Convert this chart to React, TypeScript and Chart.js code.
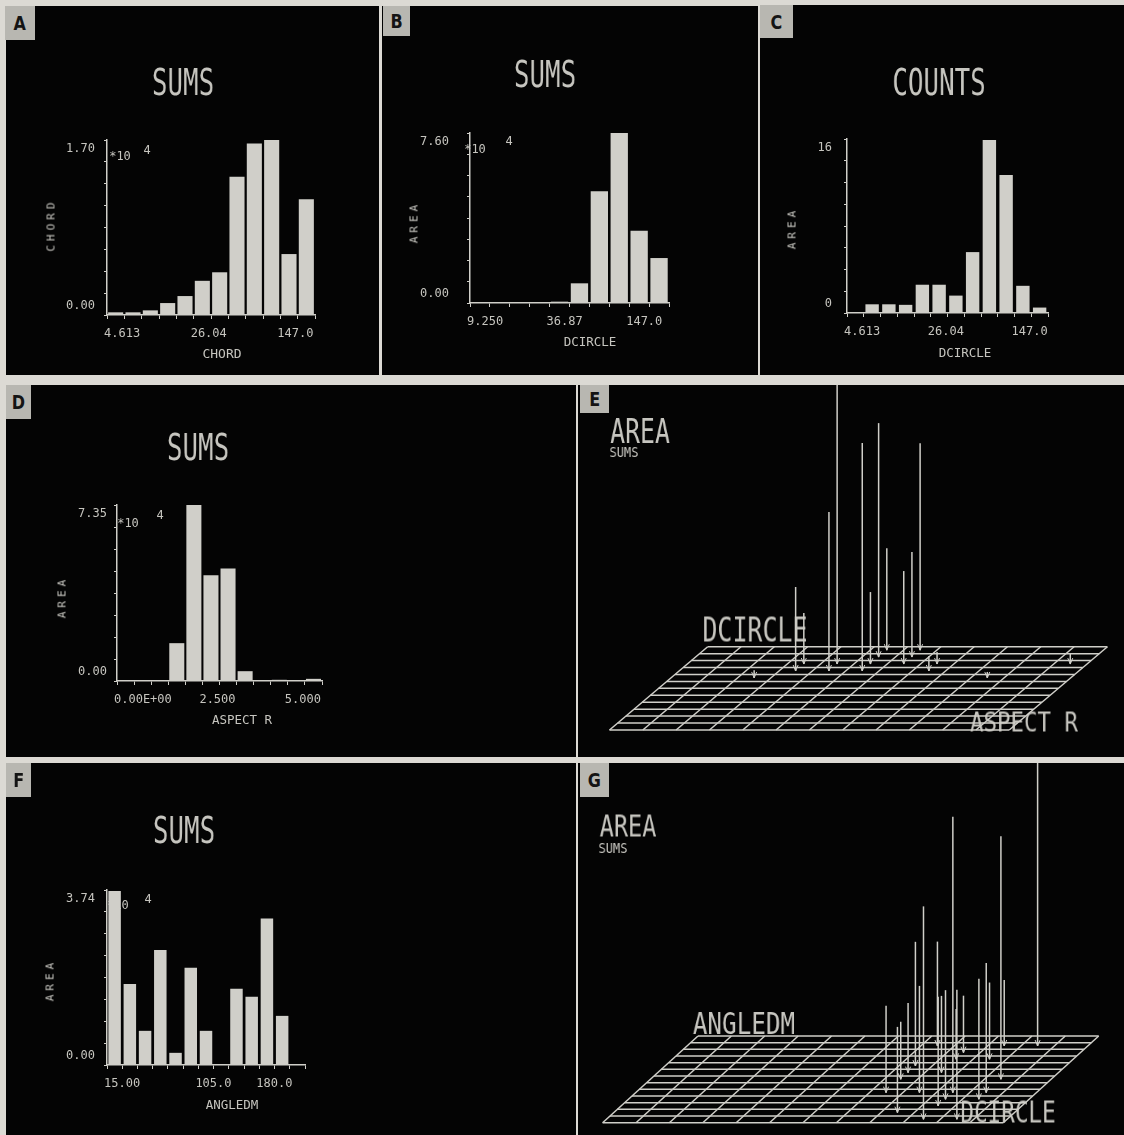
import React, { useEffect, useRef } from 'react';
import { Chart, registerables } from 'chart.js';

Chart.register(...registerables);

const PAGE_BG = '#dcdad4';
const PANEL_BG = '#040404';
const INK = '#d0cfc9';
const TEXT = '#c6c5bf';
const TAB_BG = '#b8b7b1';
const MONO = '"DejaVu Sans Mono", "Liberation Mono", monospace';

// ---------- Panel A: SUMS of CHORD by CHORD (x10^4)
const chordSums = [0.026, 0.026, 0.045, 0.116, 0.184, 0.332, 0.415, 1.343, 1.665, 1.7, 0.592, 1.124];
const chordTickIdx = [0, 5, 10];
const chordTickLabels = ['4.613', '26.04', '147.0'];
const chordYLabels = ['0.00', '1.70'];

// ---------- Panel B: SUMS of AREA by DCIRCLE (x10^4)
const dcircleAreaSums = [0, 0, 0, 0, 0.06, 0.88, 5.0, 7.6, 3.23, 2.01];
const dcircleBTickIdx = [0, 4, 8];
const dcircleBTickLabels = ['9.250', '36.87', '147.0'];
const dcircleBYLabels = ['0.00', '7.60'];

// ---------- Panel C: COUNTS by DCIRCLE
const dcircleCounts = [0, 0.8, 0.8, 0.75, 2.6, 2.6, 1.6, 5.6, 15.9, 12.7, 2.5, 0.5];
const dcircleCTickIdx = [0, 5, 10];
const dcircleCTickLabels = ['4.613', '26.04', '147.0'];
const dcircleCYLabels = ['0', '16'];

// ---------- Panel D: SUMS of AREA by ASPECT R (x10^4)
const aspectAreaSums = [0, 0, 0, 1.58, 7.35, 4.42, 4.7, 0.41, 0, 0.05, 0, 0.09];
const aspectTickIdx = [0, 5, 10];
const aspectTickLabels = ['0.00E+00', '2.500', '5.000'];
const aspectYLabels = ['0.00', '7.35'];

// ---------- Panel F: SUMS of AREA by ANGLEDM (x10^4)
const angleAreaSums = [3.72, 1.73, 0.73, 2.46, 0.26, 2.08, 0.73, 0, 1.63, 1.46, 3.13, 1.05, 0];
const angleTickIdx = [0, 6, 10];
const angleTickLabels = ['15.00', '105.0', '180.0'];
const angleYLabels = ['0.00', '3.74'];

// ---------- Panel E: AREA sums by ASPECT R (across) x DCIRCLE (depth)
const eAspectBin = [3, 3, 4, 4, 5, 5, 5, 5, 6, 6, 6, 7, 7, 9, 11, 2];
const eDcircleBin = [8, 9, 8, 9, 8, 9, 10, 11, 9, 10, 11, 8, 9, 7, 9, 7];
const eAreaSums = [14, 8.5, 26.5, 55, 38, 12, 39, 17, 15.5, 17.5, 34.5, 2.5, 2, 1, 1.7, 1.3];

// ---------- Panel G: AREA sums by DCIRCLE (across) x ANGLEDM (depth)
const gDcircleBin = [7, 8, 7, 7, 7, 8, 9, 7, 9, 8, 9, 9, 8, 10, 8, 10, 10, 9, 10, 9, 10];
const gAngleBin = [4, 1, 6, 7, 8, 4, 0, 11, 2, 7, 3, 4, 9, 0, 10, 3, 4, 9, 6, 11, 11];
const gAreaSums = [14.5, 14.3, 9.6, 11.6, 20.7, 17.8, 35.5, 17.4, 18.2, 12.8, 18.2, 46, 8.4, 21.6, 9.5, 20.1, 21.6, 12.8, 40.5, 11, 60];

type Rect = { x: number; y: number; w: number; h: number };
type Area = { l: number; r: number; t: number; b: number };

const Y_W = 60;
const X_H = 30;

function HistChart(props: {
  rect: Rect; area: Area; values: number[]; yMax: number; yLabels: string[];
  xIdx: number[]; xLabels: string[]; barPct: number; yPad: number;
}) {
  const ref = useRef<HTMLCanvasElement>(null);
  useEffect(() => {
    const { rect, area, values, yMax, yLabels, xIdx, xLabels, barPct, yPad } = props;
    const n = values.length;
    const font = { family: MONO, size: 12, lineHeight: 1.5 };
    const chart = new Chart(ref.current as HTMLCanvasElement, {
      type: 'bar',
      data: {
        datasets: [{
          data: values.map((v, i) => ({ x: i + 0.5, y: v })),
          backgroundColor: INK,
          borderWidth: 0,
          barPercentage: barPct,
          categoryPercentage: 1,
        }],
      },
      options: {
        animation: false,
        responsive: false,
        events: [],
        layout: {
          padding: {
            left: area.l - rect.x - Y_W,
            top: area.t - rect.y,
            right: rect.x + rect.w - area.r,
            bottom: rect.y + rect.h - area.b - X_H,
          },
        },
        plugins: { legend: { display: false }, tooltip: { enabled: false }, title: { display: false } },
        scales: {
          x: {
            type: 'linear', min: 0, max: n, offset: false,
            afterFit: (s: any) => { s.height = X_H; },
            afterBuildTicks: (s: any) => { s.ticks = Array.from({ length: n + 1 }, (_, i) => ({ value: i })); },
            ticks: {
              autoSkip: false, maxRotation: 0, minRotation: 0, align: 'start', labelOffset: -3, padding: 8,
              color: TEXT, font: { family: MONO, size: 12 },
              callback: (_v: any, i: number) => { const k = xIdx.indexOf(i); return k >= 0 ? xLabels[k] : ''; },
            },
            grid: { display: true, drawOnChartArea: false, drawTicks: true, tickLength: 4, color: INK, lineWidth: 1, offset: false },
            border: { display: true, color: INK, width: 1.5 },
          },
          y: {
            type: 'linear', min: 0, max: yMax,
            afterFit: (s: any) => { s.width = Y_W; },
            afterBuildTicks: (s: any) => { s.ticks = Array.from({ length: 9 }, (_, i) => ({ value: (yMax * i) / 8 })); },
            ticks: {
              autoSkip: false, padding: yPad, color: TEXT, font,
              callback: (_v: any, i: number) => (i === 0 ? [yLabels[0], ''] : i === 8 ? ['', yLabels[1]] : ''),
            },
            grid: { display: true, drawOnChartArea: false, drawTicks: true, tickLength: 3, color: INK, lineWidth: 1 },
            border: { display: true, color: INK, width: 1.5 },
          },
        },
      } as any,
    });
    return () => chart.destroy();
  }, []);
  const { rect } = props;
  return (
    <canvas ref={ref} width={rect.w} height={rect.h}
      style={{ position: 'absolute', left: rect.x, top: rect.y, width: rect.w, height: rect.h, zIndex: 2 }} />
  );
}

type Geo = { fx: number; fy: number; w: number; sx: number; h: number; cols: number; rows: number; z: number };

function WireChart(props: { rect: Rect; geo: Geo; across: number[]; depth: number[]; vals: number[] }) {
  const ref = useRef<HTMLCanvasElement>(null);
  useEffect(() => {
    const { rect, geo, across, depth, vals } = props;
    const proj = (c: number, d: number, z: number) => ({
      x: geo.fx - rect.x + (c / geo.cols) * geo.w + (d / geo.rows) * geo.sx,
      y: geo.fy - rect.y - (d / geo.rows) * geo.h - z * geo.z,
    });
    const ds: any[] = [];
    const line = (pts: { x: number; y: number }[], w = 1.5) =>
      ds.push({ data: pts, showLine: true, borderColor: INK, borderWidth: w, pointRadius: 0, fill: false, tension: 0 });
    for (let c = 0; c <= geo.cols; c++) line([proj(c, 0, 0), proj(c, geo.rows, 0)]);
    for (let d = 0; d <= geo.rows; d++) line([proj(0, d, 0), proj(geo.cols, d, 0)]);
    vals.forEach((v, i) => {
      const c = across[i] + 0.5;
      const d = depth[i] + 0.5;
      const b = proj(c, d, 0);
      line([b, proj(c, d, v)], 1.5);
      line([{ x: b.x - 2.5, y: b.y - 6 }, b, { x: b.x + 2.5, y: b.y - 6 }], 1);
    });
    const chart = new Chart(ref.current as HTMLCanvasElement, {
      type: 'scatter',
      data: { datasets: ds },
      options: {
        animation: false,
        responsive: false,
        events: [],
        layout: { padding: 0 },
        plugins: { legend: { display: false }, tooltip: { enabled: false } },
        scales: {
          x: { type: 'linear', display: false, min: 0, max: rect.w },
          y: { type: 'linear', display: false, min: 0, max: rect.h, reverse: true },
        },
      } as any,
    });
    return () => chart.destroy();
  }, []);
  const { rect } = props;
  return (
    <canvas ref={ref} width={rect.w} height={rect.h}
      style={{ position: 'absolute', left: rect.x, top: rect.y, width: rect.w, height: rect.h, zIndex: 2 }} />
  );
}

function Label(p: { x: number; y: number; t: string; s: number; sx?: number; rot?: number; ls?: number; color?: string }) {
  return (
    <div style={{
      position: 'absolute', left: p.x, top: p.y, zIndex: 1,
      transform: `translate(-50%, -50%) rotate(${p.rot || 0}deg) scaleX(${p.sx || 1})`,
      fontFamily: MONO, fontSize: p.s, lineHeight: 1, whiteSpace: 'pre', color: p.color || TEXT,
      letterSpacing: p.ls || 0, willChange: 'transform', WebkitFontSmoothing: 'antialiased',
    } as any}>{p.t}</div>
  );
}

function Tab(p: { x: number; y: number; w: number; h: number; t: string }) {
  return (
    <div style={{
      position: 'absolute', left: p.x, top: p.y, width: p.w, height: p.h, background: TAB_BG, zIndex: 3,
      display: 'flex', alignItems: 'center', justifyContent: 'center',
    }}>
      <span style={{ fontFamily: '"DejaVu Sans", sans-serif', fontWeight: 'bold', fontSize: 20, color: '#141414', transform: 'scaleX(0.8)', display: 'inline-block' }}>{p.t}</span>
    </div>
  );
}

const rA: Rect = { x: 6, y: 6, w: 373, h: 369 };
const rB: Rect = { x: 382, y: 6, w: 376, h: 369 };
const rC: Rect = { x: 760, y: 5, w: 364, h: 370 };
const rD: Rect = { x: 6, y: 385, w: 570, h: 372 };
const rE: Rect = { x: 578, y: 385, w: 546, h: 372 };
const rF: Rect = { x: 6, y: 763, w: 570, h: 372 };
const rG: Rect = { x: 578, y: 763, w: 546, h: 372 };

const geoE: Geo = { fx: 609.5, fy: 730, w: 399.7, sx: 98.2, h: 83.3, cols: 12, rows: 12, z: 6 };
const geoG: Geo = { fx: 602.6, fy: 1122.7, w: 400.7, sx: 95.4, h: 86.7, cols: 12, rows: 13, z: 6 };

export default function App() {
  const panels = [rA, rB, rC, rD, rE, rF, rG];
  return (
    <div style={{ position: 'absolute', left: 0, top: 0, width: 1124, height: 1135, background: PAGE_BG, overflow: 'hidden' }}>
      {panels.map((r, i) => (
        <div key={i} style={{ position: 'absolute', left: r.x, top: r.y, width: r.w, height: r.h, background: PANEL_BG, zIndex: 0 }} />
      ))}

      {/* Panel A */}
      <Label x={183} y={82} t="SUMS" s={38} sx={0.68} />
      <Label x={51} y={225} t="CHORD" s={11} rot={-90} ls={4} />
      <Label x={222} y={353} t="CHORD" s={13} />
      <Label x={120} y={156} t="*10" s={12} />
      <Label x={147} y={150} t="4" s={12} />
      <HistChart rect={rA} area={{ l: 107, r: 315, t: 140, b: 315 }} values={chordSums} yMax={1.7}
        yLabels={chordYLabels} xIdx={chordTickIdx} xLabels={chordTickLabels} barPct={0.87} yPad={9} />

      {/* Panel B */}
      <Label x={545} y={74} t="SUMS" s={38} sx={0.68} />
      <Label x={414} y={222} t="AREA" s={11} rot={-90} ls={4} />
      <Label x={590} y={342} t="DCIRCLE" s={12.5} />
      <Label x={475} y={149} t="*10" s={12} />
      <Label x={509} y={141} t="4" s={12} />
      <HistChart rect={rB} area={{ l: 470, r: 669, t: 133, b: 303 }} values={dcircleAreaSums} yMax={7.6}
        yLabels={dcircleBYLabels} xIdx={dcircleBTickIdx} xLabels={dcircleBTickLabels} barPct={0.87} yPad={18} />

      {/* Panel C */}
      <Label x={939} y={82} t="COUNTS" s={38} sx={0.68} />
      <Label x={792} y={228} t="AREA" s={11} rot={-90} ls={4} />
      <Label x={965} y={353} t="DCIRCLE" s={12.5} />
      <HistChart rect={rC} area={{ l: 847, r: 1048, t: 139, b: 313 }} values={dcircleCounts} yMax={16}
        yLabels={dcircleCYLabels} xIdx={dcircleCTickIdx} xLabels={dcircleCTickLabels} barPct={0.8} yPad={12} />

      {/* Panel D */}
      <Label x={198} y={447} t="SUMS" s={38} sx={0.68} />
      <Label x={62} y={597} t="AREA" s={11} rot={-90} ls={4} />
      <Label x={242} y={720} t="ASPECT R" s={12.5} />
      <Label x={128} y={523} t="*10" s={12} />
      <Label x={160} y={515} t="4" s={12} />
      <HistChart rect={rD} area={{ l: 117, r: 322, t: 505, b: 681 }} values={aspectAreaSums} yMax={7.35}
        yLabels={aspectYLabels} xIdx={aspectTickIdx} xLabels={aspectTickLabels} barPct={0.88} yPad={7} />

      {/* Panel F */}
      <Label x={184} y={830} t="SUMS" s={38} sx={0.68} />
      <Label x={50} y={980} t="AREA" s={11} rot={-90} ls={4} />
      <Label x={232} y={1105} t="ANGLEDM" s={12.5} />
      <Label x={118} y={905} t="*10" s={12} />
      <Label x={148} y={899} t="4" s={12} />
      <HistChart rect={rF} area={{ l: 107, r: 305, t: 890, b: 1065 }} values={angleAreaSums} yMax={3.74}
        yLabels={angleYLabels} xIdx={angleTickIdx} xLabels={angleTickLabels} barPct={0.82} yPad={9} />

      {/* Panel E */}
      <Label x={640} y={431} t="AREA" s={34} sx={0.73} />
      <Label x={624} y={452} t="SUMS" s={14} sx={0.86} />
      <Label x={755} y={630} t="DCIRCLE" s={33} sx={0.755} />
      <Label x={1024} y={722} t="ASPECT R" s={27} sx={0.83} />
      <WireChart rect={rE} geo={geoE} across={eAspectBin} depth={eDcircleBin} vals={eAreaSums} />

      {/* Panel G */}
      <Label x={628} y={826} t="AREA" s={31} sx={0.76} />
      <Label x={613} y={848} t="SUMS" s={14} sx={0.86} />
      <Label x={744} y={1024} t="ANGLEDM" s={30} sx={0.81} />
      <Label x={1008} y={1112} t="DCIRCLE" s={31} sx={0.73} />
      <WireChart rect={rG} geo={geoG} across={gDcircleBin} depth={gAngleBin} vals={gAreaSums} />

      <Tab x={5} y={6} w={30} h={34} t="A" />
      <Tab x={383} y={6} w={27} h={30} t="B" />
      <Tab x={760} y={5} w={33} h={33} t="C" />
      <Tab x={6} y={385} w={25} h={34} t="D" />
      <Tab x={580} y={385} w={29} h={28} t="E" />
      <Tab x={6} y={763} w={25} h={34} t="F" />
      <Tab x={580} y={763} w={29} h={34} t="G" />
    </div>
  );
}
